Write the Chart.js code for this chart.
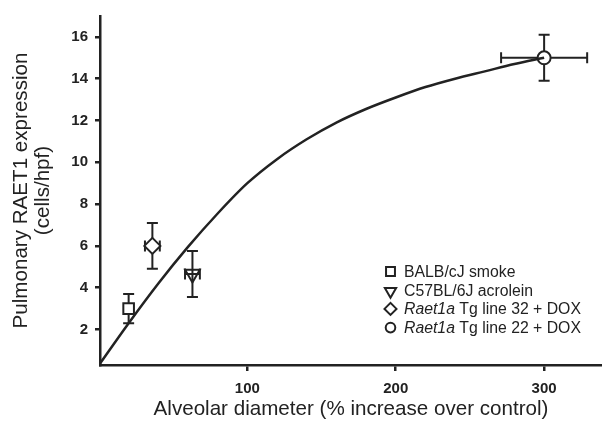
<!DOCTYPE html>
<html lang="en">
<head>
<meta charset="UTF-8">
<title>Pulmonary RAET1 expression vs alveolar diameter</title>
<script src="https://cdn.jsdelivr.net/npm/chart.js"></script>
<style>
  html, body { margin: 0; padding: 0; background: #fff; }
  .wrap { width: 602px; height: 423px; }
</style>
</head>
<body>
<div class="wrap"><canvas id="chart" width="602" height="423"></canvas></div>
<script>
// curve, points
var curveX = [0, 20, 40, 60, 80, 100, 120, 140, 160, 180, 200, 220, 240, 260, 280, 300];
var curveY = [0.3, 2.3, 4.2, 5.95, 7.55, 9.0, 10.15, 11.1, 11.9, 12.55, 13.1, 13.6, 14.0, 14.35, 14.7, 15.0];

// the four groups (mean +- error)
var groupItalic = ['', '', 'Raet1a', 'Raet1a'];
var groupText = ['BALB/cJ smoke', 'C57BL/6J acrolein', ' Tg line 32 + DOX', ' Tg line 22 + DOX'];
var groupX = [20, 63, 36, 300];
var groupY = [3.0, 4.65, 6.0, 15.0];
var errX = [3, 5, 5, 29];
var errY = [0.7, 1.1, 1.1, 1.1];

var xTicks = [100, 200, 300];
var yTicks = [2, 4, 6, 8, 10, 12, 14, 16];

var FONT = 'Liberation Sans';
var INK = '#222';
var styles = ['rect', 'triangle', 'rectRot', 'circle'];
var rotations = [0, 180, 0, 0];
var radii = [7.5, 8.5, 8, 6.5];
var fills = ['#fff', 'rgba(255,255,255,0)', '#fff', '#fff'];

var datasets = [{
  label: 'curve',
  data: curveX.map(function(x, i) { return {x: x, y: curveY[i]}; }),
  showLine: true,
  borderColor: INK,
  borderWidth: 2.5,
  pointRadius: 0,
  cubicInterpolationMode: 'monotone',
  order: 0
}];
for (var i = 0; i < groupX.length; i++) {
  datasets.push({
    label: groupItalic[i] + groupText[i],
    data: [{x: groupX[i], y: groupY[i]}],
    pointStyle: styles[i],
    rotation: rotations[i],
    pointRadius: radii[i],
    pointBorderWidth: 2,
    borderColor: INK,
    backgroundColor: fills[i],
    order: 1
  });
}

// error bars with caps, drawn under the markers
var errorBars = {
  id: 'errorBars',
  beforeDatasetsDraw: function(chart) {
    var ctx = chart.ctx, xs = chart.scales.x, ys = chart.scales.y;
    var cap = 5.5;
    ctx.save();
    ctx.strokeStyle = INK;
    ctx.lineWidth = 2;
    for (var i = 0; i < groupX.length; i++) {
      var px = xs.getPixelForValue(groupX[i]);
      var py = ys.getPixelForValue(groupY[i]);
      var top = ys.getPixelForValue(groupY[i] + errY[i]);
      var bot = ys.getPixelForValue(groupY[i] - errY[i]);
      var lft = xs.getPixelForValue(groupX[i] - errX[i]);
      var rgt = xs.getPixelForValue(groupX[i] + errX[i]);
      ctx.beginPath();
      ctx.moveTo(px, top); ctx.lineTo(px, bot);
      ctx.moveTo(px - cap, top); ctx.lineTo(px + cap, top);
      ctx.moveTo(px - cap, bot); ctx.lineTo(px + cap, bot);
      ctx.moveTo(lft, py); ctx.lineTo(rgt, py);
      ctx.moveTo(lft, py - cap); ctx.lineTo(lft, py + cap);
      ctx.moveTo(rgt, py - cap); ctx.lineTo(rgt, py + cap);
      ctx.stroke();
    }
    ctx.restore();
  }
};

// legend with italic gene names
var legendBox = {
  id: 'legendBox',
  afterDraw: function(chart) {
    var ctx = chart.ctx;
    var mx = 390.5, tx = 404, y0 = 271.5, dy = 18.7;
    var legRadii = [6.3, 6.5, 6, 4.8];
    ctx.save();
    ctx.textBaseline = 'middle';
    for (var i = 0; i < groupText.length; i++) {
      var y = y0 + i * dy;
      ctx.strokeStyle = INK;
      ctx.lineWidth = 2;
      ctx.fillStyle = '#fff';
      Chart.helpers.drawPoint(ctx, {pointStyle: styles[i], rotation: rotations[i], radius: legRadii[i], borderWidth: 2}, mx, y + (i === 1 ? 1 : 0));
      ctx.fillStyle = INK;
      var x = tx;
      if (groupItalic[i]) {
        ctx.font = 'italic 15.8px "' + FONT + '"';
        ctx.fillText(groupItalic[i], x, y + 1);
        x += ctx.measureText(groupItalic[i]).width;
      }
      ctx.font = '15.8px "' + FONT + '"';
      ctx.fillText(groupText[i], x, y + 1);
    }
    ctx.restore();
  }
};

new Chart(document.getElementById('chart'), {
  type: 'scatter',
  data: { datasets: datasets },
  plugins: [errorBars, legendBox],
  options: {
    responsive: false,
    animation: false,
    layout: { autoPadding: false, padding: { top: 13, right: 0, left: 0, bottom: 0 } },
    plugins: { legend: { display: false }, tooltip: { enabled: false } },
    scales: {
      x: {
        type: 'linear', min: 0.7, max: 339,
        afterBuildTicks: function(s) { s.ticks = xTicks.map(function(v) { return {value: v}; }); },
        afterFit: function(s) { s.height = 58; s.paddingRight = 0; s.paddingLeft = 0; },
        border: { color: INK, width: 2.5 },
        grid: { drawOnChartArea: false, drawTicks: true, tickLength: 6, color: INK, lineWidth: 2.5 },
        ticks: { font: { family: FONT, size: 15, weight: 'bold' }, color: INK, padding: 9, maxRotation: 0 },
        title: { display: true, text: 'Alveolar diameter (% increase over control)', font: { family: FONT, size: 20.6 }, color: INK, padding: { top: 0, bottom: 1 } }
      },
      y: {
        type: 'linear', min: 0.3, max: 17,
        afterBuildTicks: function(s) { s.ticks = yTicks.map(function(v) { return {value: v}; }); },
        afterFit: function(s) { s.width = 100; },
        border: { color: INK, width: 2.5 },
        grid: { drawOnChartArea: false, drawTicks: true, tickLength: 5, color: INK, lineWidth: 2.5 },
        ticks: { font: { family: FONT, size: 15, weight: 'bold' }, color: INK, padding: 7 },
        title: { display: true, text: ['Pulmonary RAET1 expression', '(cells/hpf)'], font: { family: FONT, size: 20.6, lineHeight: 1.07 }, color: INK, padding: { top: 10, bottom: 0 } }
      }
    }
  }
});
</script>
</body>
</html>
